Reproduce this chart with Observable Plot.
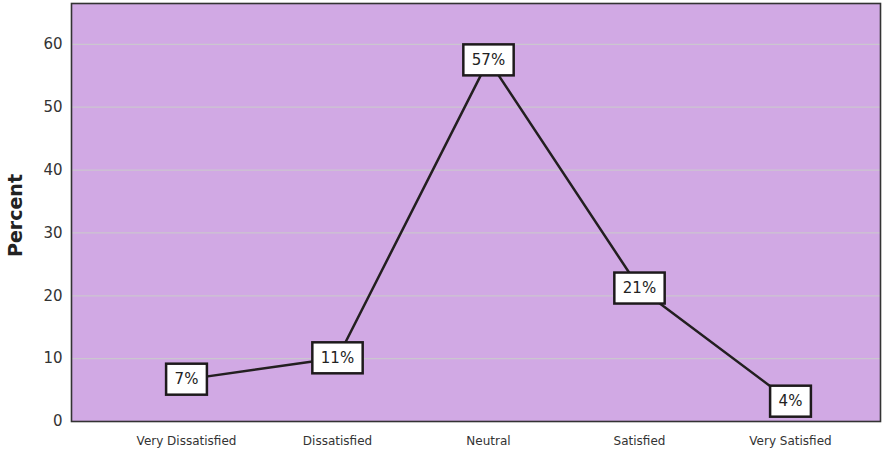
<!DOCTYPE html>
<html>
<head>
<meta charset="utf-8">
<script src="https://cdn.jsdelivr.net/npm/d3@7"></script>
<script src="https://cdn.jsdelivr.net/npm/@observablehq/plot@0.6"></script>
<style>
  html, body { margin: 0; padding: 0; background: #fff; }
</style>
</head>
<body>
<div id="chart"></div>
<script>
const categories = ["Very Dissatisfied", "Dissatisfied", "Neutral", "Satisfied", "Very Satisfied"];
const percents = [6.7, 10.1, 57.5, 21.2, 3.2];
const valueLabels = ["7%", "11%", "57%", "21%", "4%"];
const yTicks = [0, 10, 20, 30, 40, 50, 60];
const yLabel = "Percent";

const data = categories.map((c, i) => ({category: c, value: percents[i], label: valueLabels[i]}));

const purple = "#d1a9e4";

const chart = Plot.plot({
  width: 890,
  height: 453,
  marginLeft: 71,
  marginRight: 10,
  marginTop: 3,
  marginBottom: 32,
  style: {fontFamily: "DejaVu Sans, Verdana, sans-serif", fontSize: "15px", color: "#333", background: "#fff"},
  x: {type: "point", domain: categories, padding: 0, insetLeft: 113, insetRight: 89},
  y: {domain: [0, 66.5]},
  marks: [
    Plot.frame({fill: purple}),
    Plot.ruleY(yTicks.filter(d => d > 0), {stroke: "#cbc6cf", strokeWidth: 1.2}),
    Plot.axisY(yTicks, {tickSize: 0, tickPadding: 9, label: null, fontSize: 15, fill: "#333"}),
    Plot.axisX(categories, {tickSize: 0, tickPadding: 15, label: null, fontSize: 12, fill: "#333"}),
    Plot.text([yLabel], {frameAnchor: "left", rotate: -90, dx: -56, dy: 3, textAnchor: "middle", fontWeight: "bold", fontSize: 19, fill: "#222"}),
    Plot.line(data, {x: "category", y: "value", stroke: "#231f20", strokeWidth: 2.5}),
    Plot.text(data, {x: "category", y: "value", text: "label", fontSize: 15, fill: "#222"}),
    Plot.frame({stroke: "#333", strokeWidth: 1.6})
  ]
});

document.getElementById("chart").appendChild(chart);

// Add white boxes behind the value labels
const svg = chart.tagName.toLowerCase() === "svg" ? chart : chart.querySelector("svg");
svg.querySelectorAll("text").forEach(t => {
  if (!valueLabels.includes(t.textContent)) return;
  const bb = t.getBBox();
  const padX = 8.5;
  const h = 31;
  const rect = document.createElementNS("http://www.w3.org/2000/svg", "rect");
  rect.setAttribute("x", bb.x - padX);
  rect.setAttribute("y", bb.y + bb.height / 2 - h / 2);
  rect.setAttribute("width", bb.width + 2 * padX);
  rect.setAttribute("height", h);
  rect.setAttribute("fill", "#fff");
  rect.setAttribute("stroke", "#1e1a1c");
  rect.setAttribute("stroke-width", 2.5);
  const tr = t.getAttribute("transform");
  if (tr) rect.setAttribute("transform", tr);
  t.parentNode.insertBefore(rect, t);
});
</script>
</body>
</html>
